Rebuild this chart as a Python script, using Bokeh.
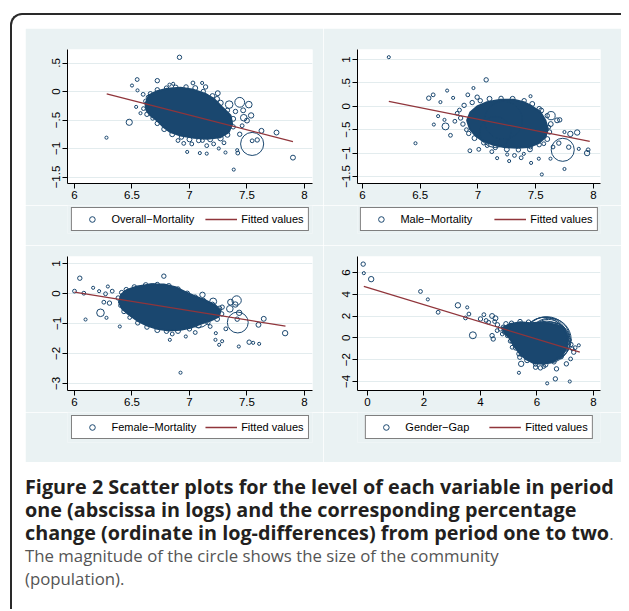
import math
from bokeh.plotting import figure
from bokeh.models import Range1d, FixedTicker, Legend, LegendItem, Div
from bokeh.layouts import row, column
from bokeh.embed import file_html
from bokeh.resources import INLINE

NAVY = "#1a476f"
MAROON = "#90353b"
BG = "#eaf2f3"
GRID = "#e3ecee"
FONT = "Liberation Sans"

# ---------------- Panel 1: Overall-Mortality ----------------
p1_name = "Overall\u2212Mortality"
p1_x = [6.913, 6.278, 6.476, 6.545, 6.72, 6.50, 6.548, 6.597, 6.536, 6.574, 6.826, 6.858,
        7.03, 7.11, 7.14, 7.246, 7.24, 7.345, 7.437, 7.516, 7.467, 7.40, 7.472, 7.536, 7.50,
        7.458, 7.437, 7.626, 7.757, 7.545, 7.545, 7.589, 7.415, 7.42, 7.385, 7.90, 7.313,
        7.09, 7.15, 6.98, 6.95, 7.21, 7.255, 7.113,
        6.62, 6.60, 6.63, 6.68, 6.72, 6.78, 6.85, 6.93, 7.00, 7.08, 7.18, 7.27, 7.33, 7.38,
        7.38, 7.33, 7.27, 7.20, 7.12, 7.05, 6.97, 6.88, 6.80, 6.72, 6.66, 6.64, 6.90, 7.02,
        7.15, 7.30,
        6.95, 7.05, 7.25, 6.80]
p1_y = [0.60, -0.81, -0.54, 0.21, 0.19, 0.105, 0.02, -0.05, -0.27, -0.38, 0.12, 0.135,
        0.15, 0.15, 0.08, -0.03, -0.13, -0.23, -0.19, -0.23, -0.33, -0.35, -0.46, -0.42, -0.51,
        -0.60, -0.75, -0.69, -0.72, -0.92, -0.865, -0.85, -1.03, -1.08, -1.37, -1.16, -1.07,
        -1.08, -1.09, -1.06, -0.91, -0.92, -1.00, -0.86,
        -0.17, -0.30, -0.40, -0.47, -0.56, -0.66, -0.75, -0.80, -0.84, -0.86, -0.84, -0.82,
        -0.76, -0.62, -0.48, -0.33, -0.20, -0.08, 0.00, 0.06, 0.08, 0.07, 0.06, 0.03, -0.04,
        -0.10, -0.86, -0.92, -0.95, -0.90,
        -0.25, -0.45, -0.62, -0.35]
p1_pop = [4, 2, 8, 3, 4, 2, 2, 3, 2, 2, 2, 2,
          3, 2, 4, 5, 5, 12, 20, 9, 5, 4, 9, 6, 5,
          3, 4, 5, 5, 110, 3, 4, 2, 3, 2, 5, 2,
          2, 2, 2, 3, 3, 2, 3,
          4, 3, 4, 3, 4, 5, 5, 4, 5, 4, 5, 6, 5, 4,
          5, 4, 6, 5, 4, 5, 4, 5, 4, 4, 4, 3, 3, 3,
          3, 3,
          150, 120, 60, 80]
p1_core_x = [6.617, 6.646, 6.719, 6.806, 6.922, 7.038, 7.139, 7.212, 7.284, 7.357, 7.371,
             7.342, 7.270, 7.154, 7.038, 6.922, 6.835, 6.777, 6.719, 6.661, 6.626]
p1_core_y = [-0.216, -0.070, 0.006, 0.047, 0.064, 0.029, -0.041, -0.129, -0.275, -0.421,
             -0.567, -0.713, -0.801, -0.830, -0.813, -0.772, -0.713, -0.626, -0.509, -0.421,
             -0.333]
p1_fit_x = [6.28, 7.90]
p1_fit_y = [-0.04, -0.88]
p1_xticks = [6, 6.5, 7, 7.5, 8]
p1_xlabels = ["6", "6.5", "7", "7.5", "8"]
p1_yticks = [0.5, 0, -0.5, -1, -1.5]
p1_ylabels = [".5", "0", "\u2212.5", "\u22121", "\u22121.5"]

# ---------------- Panel 2: Male-Mortality ----------------
p2_name = "Male\u2212Mortality"
p2_x = [6.228, 7.071, 6.574, 6.612, 6.733, 6.675, 6.785, 6.961, 6.912, 6.993, 6.655, 6.618,
        6.719, 6.762, 6.459, 6.71, 7.455, 7.547, 7.541, 7.633, 7.685, 7.708, 7.613, 7.80,
        7.859, 7.749, 7.734, 7.786, 7.70, 7.65, 7.945, 7.954, 7.873, 7.749, 7.553, 7.46,
        7.374, 7.27, 7.166, 7.316, 7.397, 7.253, 7.527, 7.628, 7.007, 7.08, 7.455, 7.57,
        6.82, 6.85, 6.80, 6.87, 6.90, 6.84, 6.88, 6.95, 7.02, 7.10, 7.20, 7.30, 7.40, 7.47,
        7.53, 7.60, 7.63, 7.62, 7.60, 7.53, 7.45, 7.35, 7.25, 7.15, 7.05, 6.97, 6.92, 6.93,
        7.12,
        7.22, 7.15]
p2_y = [1.05, 0.565, 0.174, 0.245, 0.336, 0.09, 0.18, 0.39, 0.245, 0.195, -0.21, -0.39,
        -0.43, -0.62, -0.79, -0.29, 0.216, -0.09, -0.27, -0.20, -0.30, -0.29, -0.446, -0.59,
        -0.56, -0.55, -0.93, -0.873, -0.787, -0.87, -1.00, -0.93, -0.91, -1.34, -1.457, -1.21,
        -1.10, -1.17, -1.108, -1.05, -1.016, -1.03, -1.12, -1.12, -0.92, -0.84, -0.87, -0.80,
        -0.15, -0.25, -0.32, -0.38, -0.50, -0.08, 0.02, 0.08, 0.12, 0.16, 0.17, 0.16, 0.12,
        0.05, -0.05, -0.20, -0.38, -0.55, -0.70, -0.82, -0.92, -0.93, -0.92, -0.88, -0.78,
        -0.68, -0.58, -0.95, -0.97,
        -0.30, -0.55]
p2_pop = [2, 4, 4, 3, 2, 2, 2, 2, 3, 4, 2, 2,
          10, 3, 2, 2, 2, 5, 4, 14, 5, 4, 3, 6,
          6, 2, 110, 4, 4, 3, 6, 3, 2, 2, 2, 2,
          3, 2, 2, 3, 2, 2, 2, 2, 3, 3, 3, 3,
          3, 4, 3, 4, 3, 3, 4, 4, 4, 5, 4, 5, 4, 5,
          4, 4, 5, 4, 5, 4, 5, 4, 5, 4, 4, 5, 4, 3,
          3,
          300, 200]
p2_core_x = [6.906, 6.935, 6.993, 7.079, 7.195, 7.310, 7.397, 7.469, 7.541, 7.584, 7.605,
             7.584, 7.527, 7.440, 7.339, 7.224, 7.123, 7.036, 6.978, 6.929]
p2_core_y = [-0.303, -0.125, -0.004, 0.089, 0.138, 0.138, 0.089, -0.004, -0.125, -0.303,
             -0.481, -0.659, -0.787, -0.872, -0.887, -0.872, -0.815, -0.731, -0.624, -0.481]
p2_fit_x = [6.228, 7.968]
p2_fit_y = [0.103, -0.75]
p2_xticks = [6, 6.5, 7, 7.5, 8]
p2_xlabels = ["6", "6.5", "7", "7.5", "8"]
p2_yticks = [1, 0.5, 0, -0.5, -1, -1.5]
p2_ylabels = ["1", ".5", "0", "\u2212.5", "\u22121", "\u22121.5"]

# ---------------- Panel 3: Female-Mortality ----------------
p3_name = "Female\u2212Mortality"
p3_x = [6.0, 6.046, 6.081, 6.096, 6.226, 6.162, 6.214, 6.29, 6.27, 6.328, 6.255, 6.304,
        6.278, 6.394, 6.777, 6.829, 6.968, 6.922, 7.113, 7.206, 7.357, 7.41, 7.399, 7.351,
        7.432, 7.415, 7.284, 7.42, 7.229, 7.226, 7.258, 7.284, 7.316, 7.429, 7.519, 7.554,
        7.606, 7.60, 7.646, 7.832,
        6.38, 6.40, 6.43, 6.48, 6.55, 6.63, 6.72, 6.80, 6.90, 7.00, 7.08, 7.16, 7.24, 7.28,
        7.26, 7.20, 7.12, 7.05, 6.98, 6.90, 6.82, 6.72, 6.62, 6.52, 6.45, 6.41, 7.05, 6.85,
        7.18,
        6.68, 6.80, 7.08]
p3_y = [0.078, 0.51, 0.01, -0.867, -0.644, 0.19, 0.078, 0.233, -0.01, 0.078, -0.29, -0.32,
        -0.81, -1.10, 0.578, -1.544, -1.433, -2.64, -0.044, -0.267, -0.289, -0.233, -0.367,
        -0.511, -0.644, -0.856, -0.456, -0.967, -1.322, -1.544, -1.71, -1.59, -1.178, -1.767,
        -1.622, -1.644, -1.678, -1.044, -0.844, -1.322,
        -0.15, -0.40, -0.60, -0.80, -0.98, -1.12, -1.22, -1.26, -1.25, -1.18, -1.07, -0.97,
        -0.85, -0.68, -0.50, -0.36, -0.24, -0.12, 0.00, 0.15, 0.25, 0.30, 0.28, 0.22, 0.13,
        0.03, -1.30, -1.35, -1.10,
        -0.20, -0.45, -0.75]
p3_pop = [3, 4, 3, 2, 12, 2, 2, 2, 3, 3, 3, 4,
          2, 2, 4, 2, 2, 2, 6, 10, 7, 18, 6, 9,
          6, 4, 4, 90, 2, 2, 2, 2, 3, 2, 4, 2,
          2, 5, 5, 6,
          4, 3, 4, 3, 4, 4, 5, 4, 5, 4, 5, 4, 5, 4,
          5, 4, 5, 4, 5, 4, 5, 4, 5, 4, 4, 4, 3, 3,
          3,
          210, 300, 110]
p3_core_x = [6.386, 6.406, 6.458, 6.545, 6.661, 6.777, 6.878, 6.965, 7.052, 7.139, 7.226,
             7.270, 7.255, 7.183, 7.096, 7.009, 6.922, 6.820, 6.719, 6.632, 6.545, 6.472, 6.414]
p3_core_y = [-0.289, -0.033, 0.122, 0.233, 0.300, 0.300, 0.211, 0.044, -0.100, -0.233,
             -0.400, -0.567, -0.767, -0.900, -1.011, -1.144, -1.211, -1.233, -1.178, -1.067,
             -0.900, -0.700, -0.511]
p3_fit_x = [6.0, 7.835]
p3_fit_y = [0.044, -1.089]
p3_xticks = [6, 6.5, 7, 7.5, 8]
p3_xlabels = ["6", "6.5", "7", "7.5", "8"]
p3_yticks = [1, 0, -1, -2, -3]
p3_ylabels = ["1", "0", "\u22121", "\u22122", "\u22123"]

# ---------------- Panel 4: Gender-Gap ----------------
p4_name = "Gender\u2212Gap"
p4_x = [-0.153, -0.13, 0.13, 1.876, 2.136, 2.50, 3.20, 3.53, 3.59, 3.47, 3.73, 4.0, 4.12,
        4.41, 4.53, 4.29, 4.41, 4.45, 4.59, 4.77, 5.12, 5.20, 5.36, 5.36, 5.39, 5.44, 5.36,
        5.95, 6.12, 6.24, 6.36, 6.65, 6.69, 7.16, 7.16, 7.48, 7.30, 7.19, 7.04,
        4.2, 4.6, 4.8, 4.9, 5.0, 4.7, 5.1, 4.5, 4.85, 4.95, 5.05,
        5.1, 5.4, 5.7, 6.9, 7.05, 7.08, 7.02, 6.85, 6.6, 6.3, 5.95, 5.65, 5.45, 5.25, 5.12,
        7.2, 7.25, 7.35,
        6.30, 6.35, 6.25, 6.40, 6.20, 6.35, 6.45, 6.50, 6.55, 6.25]
p4_y = [6.77, 5.94, 5.39, 4.26, 3.53, 2.35, 2.99, 2.80, 2.19, 1.83, 0.24, 1.74, 2.13,
        2.01, 1.80, 1.43, 0.21, -0.10, 0.67, 0.36, -0.86, -0.61, -0.40, -1.46, -1.77, -2.38,
        -3.20, -2.69, -2.75, -2.62, -4.17, -3.76, -2.84, -4.00, -0.19, -0.68, -1.31, -1.93,
        -2.38,
        1.6, 1.2, 1.0, 1.3, 0.9, 0.8, 1.1, 1.5, 0.55, 0.2, -0.3,
        1.35, 1.50, 1.45, 0.7, 0.2, -0.4, -1.0, -1.7, -2.2, -2.45, -2.4, -2.05, -1.5, -0.9,
        -0.3, -0.6, -1.0, -0.9,
        -0.10, -0.30, -0.50, 0.10, -0.70, -0.20, -0.15, -0.30, -0.10, 0.00]
p4_pop = [4, 2, 6, 3, 2, 3, 6, 2, 3, 3, 10, 4, 3,
          5, 5, 3, 4, 4, 3, 3, 3, 3, 3, 4, 4, 6, 2,
          4, 4, 3, 2, 4, 4, 2, 2, 2, 4, 3, 4,
          3, 4, 3, 4, 3, 3, 4, 3, 4, 3, 3,
          4, 4, 4, 4, 4, 5, 4, 5, 4, 5, 4, 5, 4, 5, 4,
          4, 3, 3,
          400, 330, 280, 250, 200, 450, 380, 300, 220, 350]
p4_core_x = [4.767, 5.062, 5.416, 5.770, 6.242, 6.655, 6.950, 7.092, 7.068, 6.891, 6.596,
             6.242, 5.888, 5.593, 5.357, 5.180, 5.062, 4.885]
p4_core_y = [0.912, 1.278, 1.430, 1.339, 1.430, 1.217, 0.912, 0.058, -0.857, -1.620, -2.138,
             -2.382, -2.321, -1.925, -1.315, -0.705, -0.095, 0.363]
p4_fit_x = [-0.13, 7.516]
p4_fit_y = [4.72, -1.31]
p4_xticks = [0, 2, 4, 6, 8]
p4_xlabels = ["0", "2", "4", "6", "8"]
p4_yticks = [6, 4, 2, 0, -2, -4]
p4_ylabels = ["6", "4", "2", "0", "\u22122", "\u22124"]


def make_panel(name, xs, ys, pops, cx, cy, fx, fy, xt, xl, yt, yl,
               xr, yr, borders, height, leg_h, leg_bottom, leg_spacing):
    left, right, top, bottom = borders
    p = figure(width=298, height=height, x_range=Range1d(*xr), y_range=Range1d(*yr),
               output_backend="svg", toolbar_location=None,
               min_border_left=left, min_border_right=right,
               min_border_top=top, min_border_bottom=bottom,
               background_fill_color="white", border_fill_color=BG,
               outline_line_color=None)
    p.xgrid.visible = False
    p.ygrid.grid_line_color = GRID
    p.ygrid.grid_line_width = 1

    p.xaxis.ticker = FixedTicker(ticks=xt)
    p.xaxis.major_label_overrides = {t: l for t, l in zip(xt, xl)}
    p.yaxis.ticker = FixedTicker(ticks=yt)
    p.yaxis.major_label_overrides = {t: l for t, l in zip(yt, yl)}
    p.yaxis.major_label_orientation = "vertical"
    for ax in (p.xaxis, p.yaxis):
        ax.axis_line_color = "black"
        ax.axis_line_width = 1
        ax.major_tick_line_color = "black"
        ax.major_tick_out = 5
        ax.major_tick_in = 0
        ax.minor_tick_out = 0
        ax.minor_tick_in = 0
        ax.major_label_text_font = FONT
        ax.major_label_text_font_size = "11.5px"
        ax.major_label_text_color = "black"
        ax.major_label_standoff = 2

    p.patch(cx, cy, fill_color=NAVY, line_color=NAVY, line_width=2)
    sizes = [2.2 * math.sqrt(v) for v in pops]
    p.scatter(xs, ys, size=sizes, marker="circle", fill_color=None,
              line_color=NAVY, line_width=1)
    p.line(fx, fy, line_color=MAROON, line_width=1.3)

    # legend strip below the panel (Stata-style boxed legend); the key renderers
    # reuse the panel data, which lies outside this strip's view range.
    lp = figure(width=298, height=leg_h, x_range=Range1d(-100, -99), y_range=Range1d(-100, -99),
                output_backend="svg", toolbar_location=None,
                min_border_left=left, min_border_right=right,
                min_border_top=0, min_border_bottom=leg_bottom,
                x_axis_location=None, y_axis_location=None,
                background_fill_color=BG, border_fill_color=BG,
                outline_line_color=None)
    lp.grid.visible = False
    key_pts = lp.scatter(xs, ys, marker="circle", size=5, fill_color=None,
                         line_color=NAVY, line_width=1)
    key_fit = lp.line(fx, fy, line_color=MAROON, line_width=1.3)
    leg = Legend(items=[LegendItem(label=name, renderers=[key_pts]),
                        LegendItem(label="Fitted values", renderers=[key_fit])],
                 orientation="horizontal", location="center",
                 glyph_width=32, glyph_height=14, label_height=14,
                 label_standoff=4, spacing=leg_spacing, padding=4,
                 margin=0,
                 border_line_color="black", border_line_width=1,
                 background_fill_color="white", background_fill_alpha=1,
                 label_text_font=FONT, label_text_font_size="11px",
                 label_text_color="black")
    lp.add_layout(leg)
    return column(p, lp)


f1 = make_panel(p1_name, p1_x, p1_y, p1_pop, p1_core_x, p1_core_y, p1_fit_x, p1_fit_y,
                p1_xticks, p1_xlabels, p1_yticks, p1_ylabels,
                (5.939, 8.07), (-1.614, 0.737), (42, 11, 21, 22), 177, 40, 12, 11)
f2 = make_panel(p2_name, p2_x, p2_y, p2_pop, p2_core_x, p2_core_y, p2_fit_x, p2_fit_y,
                p2_xticks, p2_xlabels, p2_yticks, p2_ylabels,
                (5.957, 8.061), (-1.65, 1.214), (34, 21, 21, 22), 177, 40, 12, 22)
f3 = make_panel(p3_name, p3_x, p3_y, p3_pop, p3_core_x, p3_core_y, p3_fit_x, p3_fit_y,
                p3_xticks, p3_xlabels, p3_yticks, p3_ylabels,
                (5.939, 8.07), (-3.233, 1.233), (42, 11, 11, 22), 167, 50, 20, 9)
f4 = make_panel(p4_name, p4_x, p4_y, p4_pop, p4_core_x, p4_core_y, p4_fit_x, p4_fit_y,
                p4_xticks, p4_xlabels, p4_yticks, p4_ylabels,
                (-0.354, 8.248), (-4.826, 7.468), (34, 21, 11, 22), 167, 50, 20, 20)

caption_bold = ["Figure 2 Scatter plots for the level of each variable in period",
                "one (abscissa in logs) and the corresponding percentage",
                "change (ordinate in log-differences) from period one to two"]
caption_norm = ["The magnitude of the circle shows the size of the community",
                "(population)."]

LINE = 'style="height:23px;line-height:23px;white-space:nowrap;"'
B = '<span style="font-weight:bold;color:#231f20;font-size:19.8px;">'
N = '<span style="color:#555;font-size:16.8px;">'
lines = [f'<div {LINE}>{B}{caption_bold[0]}</span></div>',
         f'<div {LINE}>{B}{caption_bold[1]}</span></div>',
         f'<div {LINE}>{B}{caption_bold[2]}</span>{N}.</span></div>',
         f'<div {LINE}>{N}{caption_norm[0]}</span></div>',
         f'<div {LINE}>{N}{caption_norm[1]}</span></div>']
html = '<div style="font-family:\'Open Sans\';">' + "".join(lines) + '</div>'
cap = Div(text=html, width=596, height=134, margin=(13, 0, 0, 13))

grid = column(row(f1, f2), row(f3, f4), margin=(13, 0, 0, 13))
outer = column(grid, cap, margin=(13, 0, 0, 10),
               styles={"border-left": "2px solid #2a2a2a",
                       "border-top": "2px solid #2a2a2a",
                       "border-top-left-radius": "12px"})

open("out.html", "w").write(file_html(outer, INLINE))
